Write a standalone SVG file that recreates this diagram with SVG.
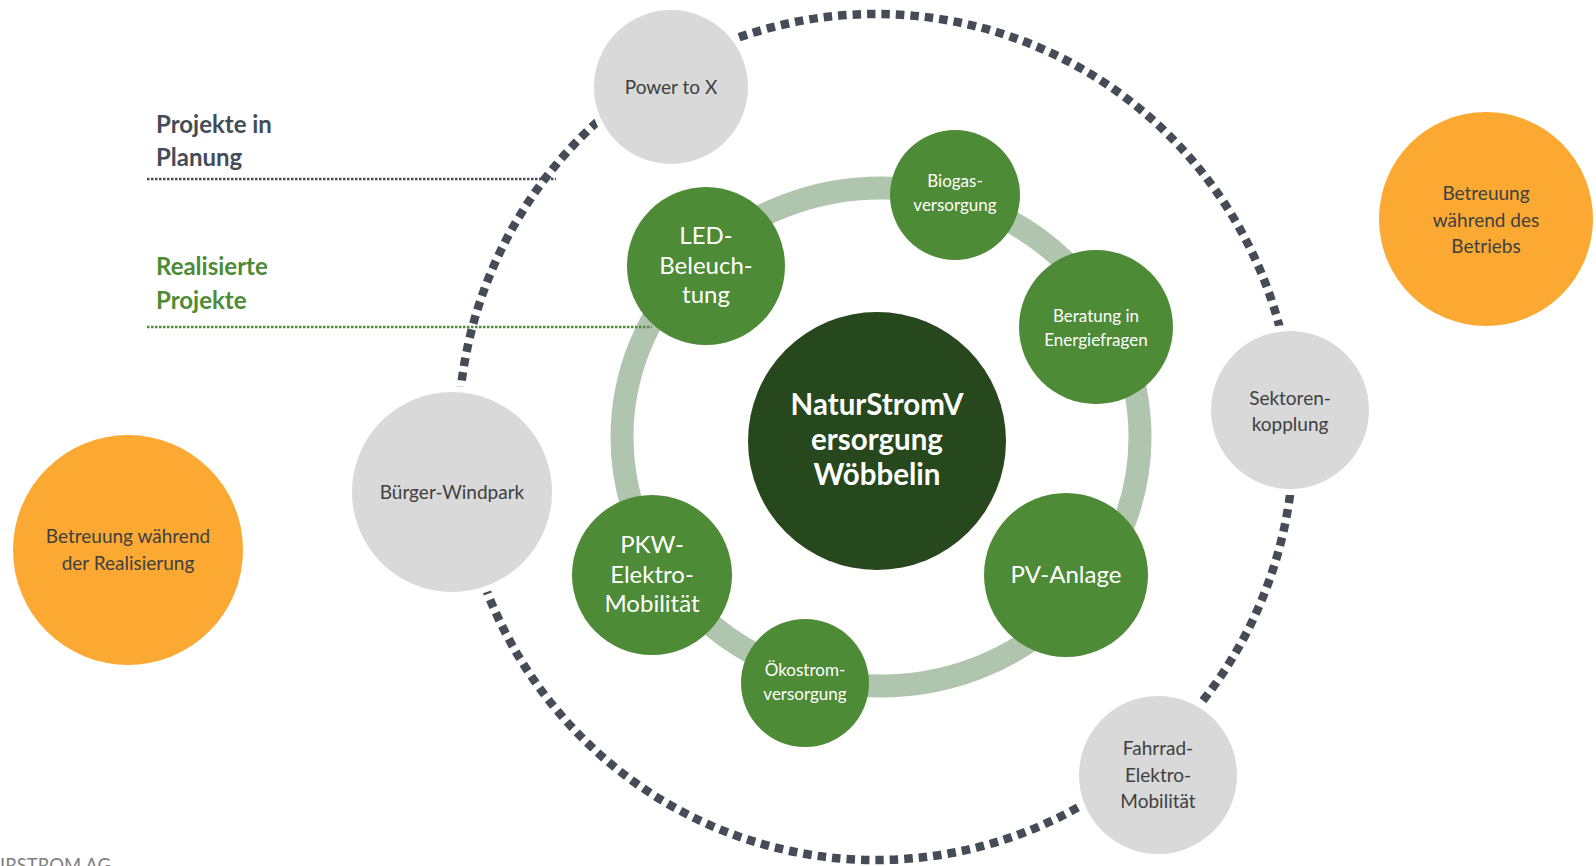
<svg xmlns="http://www.w3.org/2000/svg" width="1596" height="866" viewBox="0 0 1596 866">
<style>
.t{font-family:Lato,"Open Sans",sans-serif;text-anchor:middle;}
.gray{fill:#d9d9d9;stroke:#ffffff;stroke-width:6;}
.gray-t{fill:#404040;font-size:19px;}
.green{fill:#4d8b36;}
.white-t{fill:#ffffff;}
.orange{fill:#fba932;}
.legend{font-family:Lato,"Open Sans",sans-serif;font-weight:bold;font-size:24px;}
</style>
<rect width="1596" height="866" fill="#ffffff"/>
<g id="connectors">
  <ellipse cx="881" cy="437" rx="259" ry="249" fill="none" stroke="#b0c5ae" stroke-width="23"/>
  <line x1="147" y1="179" x2="556" y2="179" stroke="#454c57" stroke-width="2.5" stroke-dasharray="2.5 1.5"/>
  <line x1="147" y1="327" x2="652" y2="327" stroke="#4d8b36" stroke-width="2.5" stroke-dasharray="2.5 1.5"/>
  <ellipse cx="876" cy="437" rx="418" ry="423" fill="none" stroke="#454c57" stroke-width="8.5" stroke-dasharray="8.5 6"/>
</g>
<g id="legend-planung">
  <text class="legend" x="156" y="133" fill="#454c57">Projekte in</text>
  <text class="legend" x="156" y="166" fill="#454c57">Planung</text>
</g>
<g id="legend-realisiert">
  <text class="legend" x="156" y="275" fill="#4d8b36">Realisierte</text>
  <text class="legend" x="156" y="309" fill="#4d8b36">Projekte</text>
</g>
<g id="power-to-x">
  <circle class="gray" cx="671" cy="87" r="80"/>
  <text class="t gray-t" x="671" y="94" font-size="18.5">Power to X</text>
</g>
<g id="buerger-windpark">
  <circle class="gray" cx="452" cy="492" r="103"/>
  <text class="t gray-t" x="452" y="499">Bürger-Windpark</text>
</g>
<g id="sektorenkopplung">
  <circle class="gray" cx="1290" cy="410" r="82"/>
  <text class="t gray-t" x="1290" y="405">Sektoren-</text>
  <text class="t gray-t" x="1290" y="431">kopplung</text>
</g>
<g id="fahrrad">
  <circle class="gray" cx="1158" cy="775" r="82"/>
  <text class="t gray-t" x="1158" y="755">Fahrrad-</text>
  <text class="t gray-t" x="1158" y="782">Elektro-</text>
  <text class="t gray-t" x="1158" y="808">Mobilität</text>
</g>
<g id="betreuung-betrieb">
  <circle class="orange" cx="1486" cy="219" r="107"/>
  <text class="t gray-t" x="1486" y="200">Betreuung</text>
  <text class="t gray-t" x="1486" y="227">während des</text>
  <text class="t gray-t" x="1486" y="253">Betriebs</text>
</g>
<g id="betreuung-realisierung">
  <circle class="orange" cx="128" cy="550" r="115"/>
  <text class="t gray-t" x="128" y="543">Betreuung während</text>
  <text class="t gray-t" x="128" y="570">der Realisierung</text>
</g>
<g id="biogas">
  <circle class="green" cx="955" cy="195" r="65"/>
  <text class="t white-t" x="955" y="187" font-size="17">Biogas-</text>
  <text class="t white-t" x="955" y="211" font-size="17">versorgung</text>
</g>
<g id="led">
  <circle class="green" cx="706" cy="266" r="79"/>
  <text class="t white-t" x="706" y="244" font-size="24">LED-</text>
  <text class="t white-t" x="706" y="274" font-size="24">Beleuch-</text>
  <text class="t white-t" x="706" y="303" font-size="24">tung</text>
</g>
<g id="beratung">
  <circle class="green" cx="1096" cy="327" r="77"/>
  <text class="t white-t" x="1096" y="322" font-size="17">Beratung  in</text>
  <text class="t white-t" x="1096" y="346" font-size="17">Energiefragen</text>
</g>
<g id="center">
  <circle fill="#27471d" cx="877" cy="441" r="129"/>
  <text class="t white-t" x="877" y="415" font-size="29.5" font-weight="bold">NaturStromV</text>
  <text class="t white-t" x="877" y="450" font-size="29.5" font-weight="bold">ersorgung</text>
  <text class="t white-t" x="877" y="485" font-size="29.5" font-weight="bold">Wöbbelin</text>
</g>
<g id="pv">
  <circle class="green" cx="1066" cy="575" r="82"/>
  <text class="t white-t" x="1066" y="583" font-size="24">PV-Anlage</text>
</g>
<g id="pkw">
  <circle class="green" cx="652" cy="575" r="80"/>
  <text class="t white-t" x="652" y="553" font-size="24">PKW-</text>
  <text class="t white-t" x="652" y="583" font-size="24">Elektro-</text>
  <text class="t white-t" x="652" y="612" font-size="24">Mobilität</text>
</g>
<g id="oekostrom">
  <circle class="green" cx="805" cy="683" r="64"/>
  <text class="t white-t" x="805" y="676" font-size="17">Ökostrom-</text>
  <text class="t white-t" x="805" y="700" font-size="17">versorgung</text>
</g>
<text x="0" y="872" font-family="Lato,'Open Sans',sans-serif" font-size="18.5" fill="#7f7f7f">IRSTROM AG</text>
</svg>
